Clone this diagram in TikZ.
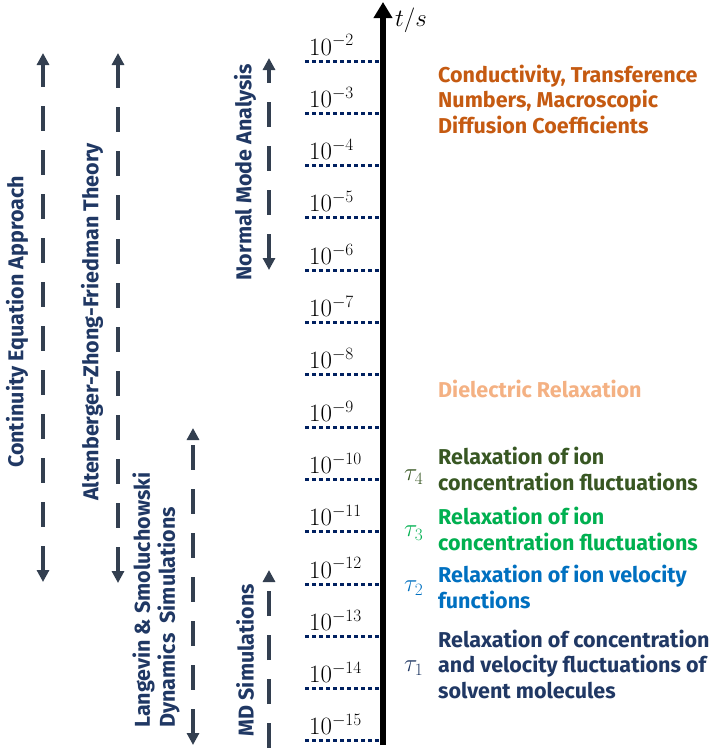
\documentclass[tikz,border=0pt]{standalone}
\usepackage{fontspec}
\setsansfont{Fira Sans}
\usetikzlibrary{arrows.meta}

\definecolor{slate}{HTML}{333F50}
\definecolor{navy}{HTML}{203864}
\definecolor{dotnavy}{HTML}{002060}
\definecolor{burnt}{HTML}{C55A11}
\definecolor{peach}{HTML}{F4B183}
\definecolor{darkgreen}{HTML}{385723}
\definecolor{brightgreen}{HTML}{00B050}
\definecolor{midblue}{HTML}{0070C0}

\begin{document}
\begin{tikzpicture}[x=1pt,y=-1pt,
  rangearrow/.style={{Triangle[length=12pt,width=12pt]}-{Triangle[length=12pt,width=12pt]},
    slate, line width=4pt, dash pattern=on 25pt off 19pt},
  uparrow/.style={-{Triangle[length=12pt,width=12pt]},
    slate, line width=4pt, dash pattern=on 25pt off 19pt},
  method/.style={rotate=90, inner sep=0, text=navy,
    font=\sffamily\bfseries\fontsize{21.5}{25}\selectfont},
  note/.style={anchor=base west, align=left, inner sep=0,
    font=\sffamily\bfseries\fontsize{21.5}{25.5}\selectfont},
  taulbl/.style={anchor=west, inner sep=0, font=\fontsize{26}{30}\selectfont},
  tickline/.style={dotnavy, line width=3pt, dash pattern=on 3.5pt off 3.5pt},
  tickval/.style={anchor=base west, inner sep=0, font=\fontsize{25}{30}\selectfont}]
  \useasboundingbox (0,0) rectangle (713,748);

  % time axis
  \coordinate (axis bot) at (383,745);
  \coordinate (axis top) at (383,2);
  \draw[-{Triangle[length=16pt,width=18pt]}, black, line width=6pt] (axis bot) -- (axis top);
  \node[taulbl] (unit) at (395,20) {$t/s$};

  % decades
  \foreach \k in {2,...,15}{
    \pgfmathsetmacro\yk{61+(\k-2)*52.3}
    \coordinate (tl\k) at (305,\yk);
    \coordinate (tr\k) at (380,\yk);
    \draw[tickline] (tl\k) -- (tr\k);
    \node[tickval] (tv\k) at (309,\yk-6) {$10^{-\k}$};
  }

  % processes (base = last line)
  \node[note, text=burnt] (cond) at (438,133)
    {Conductivity, Transference\\Numbers, Macroscopic\\Diffusion Coefficients};
  \node[note, text=peach] (diel) at (438,397) {Dielectric Relaxation};
  \node[note, text=darkgreen] (rel4) at (438,490) {Relaxation of ion\\concentration fluctuations};
  \node[note, text=brightgreen] (rel3) at (438,550) {Relaxation of ion\\concentration fluctuations};
  \node[note, text=midblue] (rel2) at (438,608) {Relaxation of ion velocity\\functions};
  \node[note, text=navy] (rel1) at (438,698)
    {Relaxation of concentration\\and velocity fluctuations of\\solvent molecules};
  \node[taulbl, text=darkgreen] (tau4) at (404,477) {$\tau_4$};
  \node[taulbl, text=brightgreen] (tau3) at (404,533) {$\tau_3$};
  \node[taulbl, text=midblue] (tau2) at (404,588) {$\tau_2$};
  \node[taulbl, text=navy] (tau1) at (404,668) {$\tau_1$};

  % methods
  \node[method] (cea) at (17,322) {Continuity Equation Approach};
  \node[method] (azf) at (92,322) {Altenberger-Zhong-Friedman Theory};
  \node[method] (nma) at (245,172) {Normal Mode Analysis};
  \node[method, align=left, anchor=west] (lsd) at (156,728)
    {Langevin \& Smoluchowski\\Dynamics\ \ Simulations};
  \node[method] (mds) at (245,660) {MD Simulations};

  \coordinate (cea top) at (43,53);
  \coordinate (cea bot) at (43,582);
  \coordinate (azf top) at (118,53);
  \coordinate (azf bot) at (118,583);
  \coordinate (nma top) at (269,58);
  \coordinate (nma bot) at (269,270);
  \coordinate (lsd top) at (193,428);
  \coordinate (lsd bot) at (193,745);
  \coordinate (mds top) at (269,570);
  \coordinate (mds bot) at (269,748);
  \draw[rangearrow] (cea bot) -- (cea top);
  \draw[rangearrow] (azf bot) -- (azf top);
  \draw[rangearrow] (nma bot) -- (nma top);
  \draw[rangearrow] (lsd bot) -- (lsd top);
  \draw[uparrow] (mds bot) -- (mds top);
\end{tikzpicture}
\end{document}
